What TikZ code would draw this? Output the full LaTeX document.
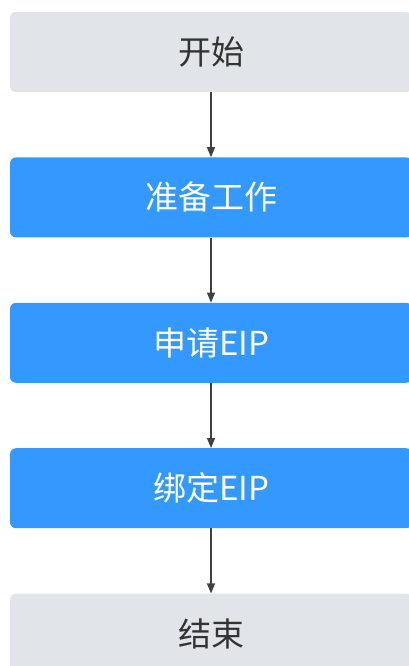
\documentclass[tikz,border=0pt]{standalone}
\usepackage{fontspec}
\setmainfont{Noto Sans CJK SC}
\usetikzlibrary{positioning,arrows.meta}

\definecolor{stepgray}{RGB}{225,228,232}
\definecolor{stepblue}{RGB}{51,153,255}
\definecolor{textgray}{RGB}{51,51,51}
\definecolor{linegray}{RGB}{64,64,64}

\tikzset{
  endbox/.style={fill=stepgray, text=textgray, rounded corners=6pt,
    minimum width=402pt, minimum height=80pt, inner sep=0pt, font=\fontsize{33}{40}\selectfont},
  workbox/.style={endbox, fill=stepblue, text=white},
  flow/.style={draw=linegray, line width=1.2pt, -{Triangle[length=10pt,width=8pt]}}
}

\begin{document}
\begin{tikzpicture}[x=1pt,y=1pt,yscale=-1,node distance=65pt]
\useasboundingbox (0,0) rectangle (408,666);

% flow steps
\node [endbox] (start) at (211,52) {开始};
\node [workbox, below=of start] (prepare) {准备工作};
\node [workbox, below=of prepare] (apply) {申请EIP};
\node [workbox, below=of apply] (bind) {绑定EIP};
\node [endbox, below=of bind] (finish) {结束};

% arrows
\draw [flow] (start) -- (prepare);
\draw [flow] (prepare) -- (apply);
\draw [flow] (apply) -- (bind);
\draw [flow] (bind) -- (finish);

\end{tikzpicture}
\end{document}
